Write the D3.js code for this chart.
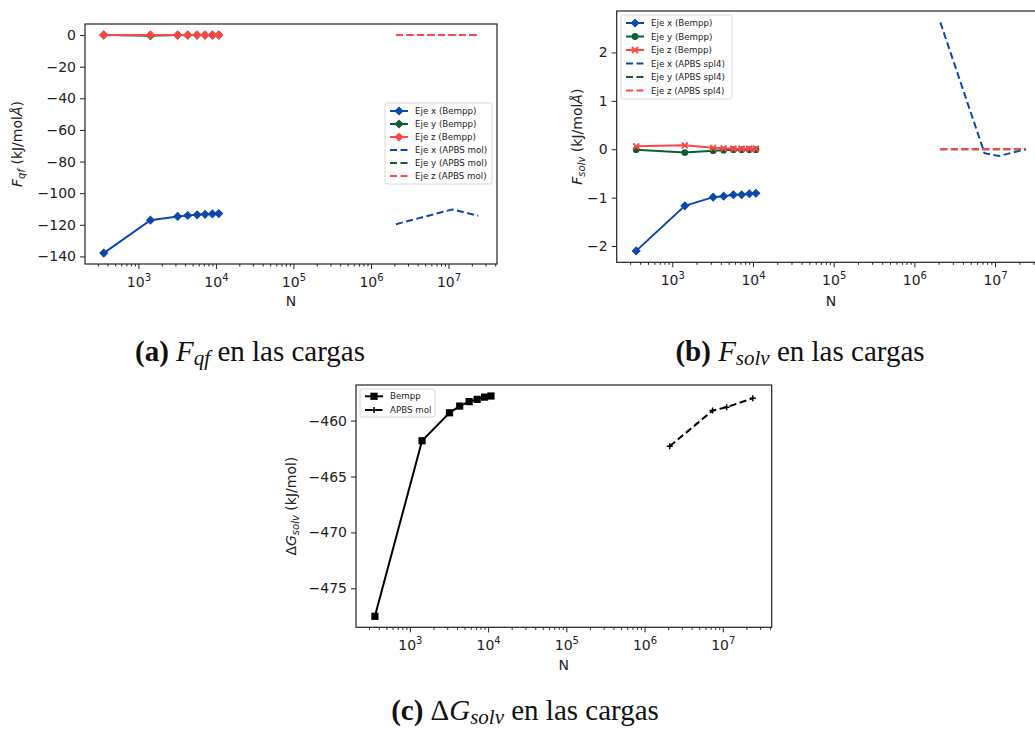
<!DOCTYPE html>
<html>
<head>
<meta charset="utf-8">
<script src="https://cdn.jsdelivr.net/npm/d3@7"></script>
<style>
  body { margin: 0; background: #fff; }
  text { font-family: "DejaVu Sans", sans-serif; }
  .cap { font-family: "Liberation Serif", "DejaVu Serif", serif; }
</style>
</head>
<body>
<script>
// number of elements (N) for each solver
var nBempp = [357, 1430, 3210, 4330, 5720, 7240, 9010, 10870];
var nApbs = [2.1e6, 7.4e6, 1.12e7, 2.42e7];

// (a) F_qf
var fqfXBempp = [-137.9, -117.1, -114.7, -114.1, -113.7, -113.4, -113.1, -112.9];
var fqfYBempp = [0, -0.4, 0, 0, 0, 0, 0, 0];
var fqfZBempp = [0.1, 0.1, 0, 0, 0, 0, 0, 0];
var fqfXApbs = [-119.6, -112.6, -110.3, -114.3];
var fqfYApbs = [0, 0, 0, 0];
var fqfZApbs = [0, 0, 0, 0];

// (b) F_solv
var fsolvXBempp = [-2.10, -1.17, -0.99, -0.97, -0.94, -0.94, -0.92, -0.91];
var fsolvYBempp = [-0.01, -0.07, -0.03, -0.02, -0.01, -0.01, -0.01, -0.01];
var fsolvZBempp = [0.06, 0.08, 0.03, 0.02, 0.01, 0.01, 0.01, 0.01];
var fsolvXApbs = [2.62, -0.08, -0.14, 0.0];
var fsolvYApbs = [0, 0, 0, 0];
var fsolvZApbs = [0, 0, 0, 0];

// (c) dG_solv
var dgBempp = [-477.5, -461.8, -459.3, -458.7, -458.3, -458.1, -457.9, -457.8];
var dgApbs = [-462.3, -459.1, -458.8, -458.0];

var xTicks = [1e3, 1e4, 1e5, 1e6, 1e7];
var fqfTicks = [0, -20, -40, -60, -80, -100, -120, -140];
var fsolvTicks = [2, 1, 0, -1, -2];
var dgTicks = [-460, -465, -470, -475];

var blue = "#0b47ad", green = "#0d5e36", red = "#ff4646";

var svg = d3.select("body").append("svg")
    .attr("width", 1035)
    .attr("height", 731);

function padded(lo, hi) {
    var d = (hi - lo) * 0.05;
    return [lo - d, hi + d];
}

var allN = nBempp.concat(nApbs);
var logExt = padded(Math.log10(d3.min(allN)), Math.log10(d3.max(allN)));
var xDomain = [Math.pow(10, logExt[0]), Math.pow(10, logExt[1])];

var minorTicks = [];
for (var k = 2; k <= 7; k++) {
    for (var m = 2; m <= 9; m++) {
        var v = m * Math.pow(10, k);
        if (v > xDomain[0] && v < xDomain[1]) minorTicks.push(v);
    }
}

function drawMarker(g, type, cx, cy, color) {
    if (!type) return;
    var t = "translate(" + cx + "," + cy + ")";
    if (type == "D") {
        g.append("path").attr("transform", t + " rotate(45)")
            .attr("d", d3.symbol(d3.symbolSquare, 30)()).attr("fill", color).attr("stroke", color);
    } else if (type == "o") {
        g.append("circle").attr("cx", cx).attr("cy", cy).attr("r", 3.4).attr("fill", color);
    } else if (type == "s") {
        g.append("rect").attr("x", cx - 3.6).attr("y", cy - 3.6).attr("width", 7.2).attr("height", 7.2).attr("fill", color);
    } else if (type == "x") {
        g.append("path").attr("transform", t).attr("d", "M-3,-3L3,3M-3,3L3,-3")
            .attr("stroke", color).attr("stroke-width", 1.8).attr("fill", "none");
    } else if (type == "+") {
        g.append("path").attr("transform", t).attr("d", "M-3,0L3,0M0,-3L0,3")
            .attr("stroke", color).attr("stroke-width", 1.5).attr("fill", "none");
    }
}

function drawPanel(p) {
    var g = svg.append("g");
    var x = d3.scaleLog().domain(xDomain).range([p.left, p.right]);
    var allV = d3.merge(p.series.map(function (s) { return s.v; }));
    var y = d3.scaleLinear().domain(padded(d3.min(allV), d3.max(allV))).range([p.bottom, p.top]);

    var line = d3.line()
        .x(function (d) { return x(d[0]); })
        .y(function (d) { return y(d[1]); });

    p.series.forEach(function (s) {
        var pts = s.n.map(function (n, i) { return [n, s.v[i]]; });
        g.append("path")
            .datum(pts)
            .attr("fill", "none")
            .attr("stroke", s.color)
            .attr("stroke-width", 2)
            .attr("stroke-dasharray", s.dash ? "7,3.5" : null)
            .attr("d", line);
        pts.forEach(function (d) { drawMarker(g, s.marker, x(d[0]), y(d[1]), s.color); });
    });

    // frame
    g.append("rect")
        .attr("x", p.left).attr("y", p.top)
        .attr("width", p.right - p.left).attr("height", p.bottom - p.top)
        .attr("fill", "none").attr("stroke", "#222").attr("stroke-width", 1.2);

    // x axis, major ticks with 10^k labels
    var gx = g.append("g")
        .attr("transform", "translate(0," + p.bottom + ")")
        .call(d3.axisBottom(x).tickValues(xTicks).tickSize(5));
    gx.selectAll(".domain").remove();
    gx.selectAll("line").attr("stroke", "#222");
    gx.selectAll(".tick text").each(function (d) {
        var t = d3.select(this).text("").attr("dy", null).attr("y", p.tickBase - p.bottom)
            .attr("font-size", 14).attr("fill", "#222").attr("font-family", "DejaVu Sans");
        t.append("tspan").text("10");
        t.append("tspan").attr("dy", -6).attr("font-size", 10).text(Math.round(Math.log10(d)));
    });

    // minor ticks
    var gm = g.append("g")
        .attr("transform", "translate(0," + p.bottom + ")")
        .call(d3.axisBottom(x).tickValues(minorTicks).tickSize(2.5).tickFormat(""));
    gm.selectAll(".domain").remove();
    gm.selectAll("text").remove();
    gm.selectAll("line").attr("stroke", "#222");

    // y axis
    var gy = g.append("g")
        .attr("transform", "translate(" + p.left + ",0)")
        .call(d3.axisLeft(y).tickValues(p.yTicks).tickSize(5).tickPadding(4)
            .tickFormat(function (d) { return d < 0 ? "\u2212" + Math.abs(d) : d; }));
    gy.selectAll(".domain").remove();
    gy.selectAll("line").attr("stroke", "#222");
    gy.selectAll("text").attr("font-size", 14).attr("fill", "#222").attr("font-family", "DejaVu Sans");

    // axis labels
    g.append("text")
        .attr("x", (p.left + p.right) / 2)
        .attr("y", p.xLabelBase)
        .attr("text-anchor", "middle")
        .attr("font-size", 14).attr("fill", "#222")
        .text("N");

    var yl = g.append("text")
        .attr("transform", "translate(" + p.yLabelX + "," + ((p.top + p.bottom) / 2) + ") rotate(-90)")
        .attr("text-anchor", "middle")
        .attr("font-size", 14).attr("fill", "#222");
    p.yLabel(yl);

    // legend
    var lg = g.append("g");
    lg.append("rect")
        .attr("x", p.legend.x).attr("y", p.legend.y)
        .attr("width", p.legend.w).attr("height", p.legend.h)
        .attr("rx", 2.5)
        .attr("fill", "#fff").attr("fill-opacity", 0.8)
        .attr("stroke", "#d6d6d6");
    p.series.forEach(function (s, i) {
        var ly = p.legend.y + p.legend.first + i * p.legend.step;
        var lx = p.legend.x + 5;
        lg.append("line")
            .attr("x1", lx).attr("x2", lx + 18).attr("y1", ly).attr("y2", ly)
            .attr("stroke", s.color).attr("stroke-width", 2)
            .attr("stroke-dasharray", s.dash ? "7,3.5" : null);
        drawMarker(lg, s.marker, lx + 9, ly, s.color);
        lg.append("text")
            .attr("x", lx + 25).attr("y", ly + 3)
            .attr("font-size", 8.7).attr("fill", "#222")
            .text(s.label);
    });
}

function subLabel(t, main, sub, rest) {
    t.append("tspan").attr("font-style", "italic").text(main);
    t.append("tspan").attr("font-style", "italic").attr("font-size", 10).attr("dy", 3).text(sub);
    t.append("tspan").attr("dy", -3).text(rest);
}

drawPanel({
    left: 85, right: 497, top: 24, bottom: 264,
    tickBase: 287, xLabelBase: 306, yLabelX: 22,
    yTicks: fqfTicks,
    yLabel: function (t) {
        subLabel(t, "F", "qf", " (kJ/mol");
        t.append("tspan").attr("font-style", "italic").text("\u00c5");
        t.append("tspan").text(")");
    },
    legend: { x: 385, y: 103, w: 107, h: 81, first: 8, step: 13 },
    series: [
        { n: nBempp, v: fqfXBempp, color: blue, marker: "D", label: "Eje x (Bempp)" },
        { n: nBempp, v: fqfYBempp, color: green, marker: "D", label: "Eje y (Bempp)" },
        { n: nBempp, v: fqfZBempp, color: red, marker: "D", label: "Eje z (Bempp)" },
        { n: nApbs, v: fqfXApbs, color: blue, dash: true, label: "Eje x (APBS mol)" },
        { n: nApbs, v: fqfYApbs, color: green, dash: true, label: "Eje y (APBS mol)" },
        { n: nApbs, v: fqfZApbs, color: red, dash: true, label: "Eje z (APBS mol)" }
    ]
});

drawPanel({
    left: 616.7, right: 1045.5, top: 11, bottom: 262.3,
    tickBase: 285, xLabelBase: 306, yLabelX: 582,
    yTicks: fsolvTicks,
    yLabel: function (t) {
        subLabel(t, "F", "solv", " (kJ/mol");
        t.append("tspan").attr("font-style", "italic").text("\u00c5");
        t.append("tspan").text(")");
    },
    legend: { x: 621, y: 15, w: 111, h: 84, first: 8, step: 13.5 },
    series: [
        { n: nBempp, v: fsolvXBempp, color: blue, marker: "D", label: "Eje x (Bempp)" },
        { n: nBempp, v: fsolvYBempp, color: green, marker: "o", label: "Eje y (Bempp)" },
        { n: nBempp, v: fsolvZBempp, color: red, marker: "x", label: "Eje z (Bempp)" },
        { n: nApbs, v: fsolvXApbs, color: blue, dash: true, label: "Eje x (APBS spl4)" },
        { n: nApbs, v: fsolvYApbs, color: green, dash: true, label: "Eje y (APBS spl4)" },
        { n: nApbs, v: fsolvZApbs, color: red, dash: true, label: "Eje z (APBS spl4)" }
    ]
});

drawPanel({
    left: 356, right: 771.7, top: 385, bottom: 627.3,
    tickBase: 650, xLabelBase: 670, yLabelX: 296,
    yTicks: dgTicks,
    yLabel: function (t) {
        t.append("tspan").text("\u0394");
        subLabel(t, "G", "solv", " (kJ/mol)");
    },
    legend: { x: 360, y: 389, w: 75, h: 28, first: 7.3, step: 13.6 },
    series: [
        { n: nBempp, v: dgBempp, color: "#000", marker: "s", label: "Bempp" },
        { n: nApbs, v: dgApbs, color: "#000", marker: "+", dash: true, label: "APBS mol" }
    ]
});

// captions
function caption(cx, cy, tag, main, sub, pre) {
    var t = svg.append("text").attr("class", "cap")
        .attr("x", cx).attr("y", cy)
        .attr("text-anchor", "middle")
        .attr("font-size", 29).attr("fill", "#111");
    t.append("tspan").attr("font-weight", "bold").text(tag + " ");
    if (pre) t.append("tspan").text(pre);
    t.append("tspan").attr("font-style", "italic").text(main);
    t.append("tspan").attr("font-style", "italic").attr("font-size", 21).attr("dy", 4).text(sub);
    t.append("tspan").attr("dy", -4).text(" en las cargas");
}
caption(250, 361, "(a)", "F", "qf");
caption(800, 361, "(b)", "F", "solv");
caption(525, 720, "(c)", "G", "solv", "\u0394");
</script>
</body>
</html>
